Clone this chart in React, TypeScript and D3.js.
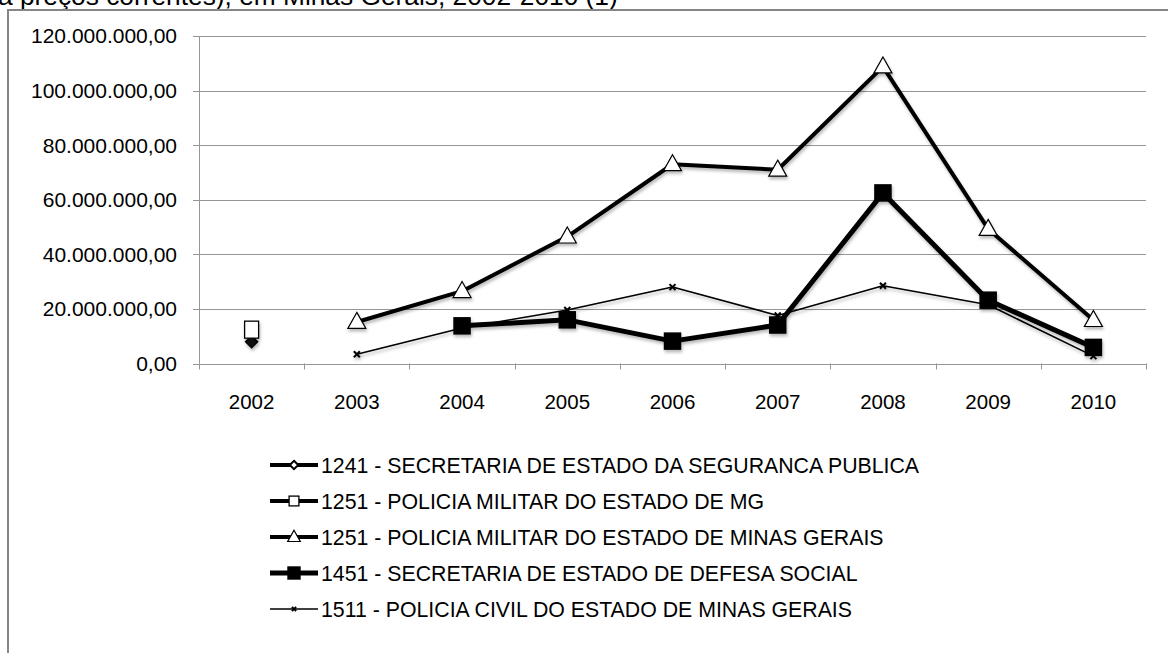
import React from "react";
import * as d3 from "d3";

const years = ["2002", "2003", "2004", "2005", "2006", "2007", "2008", "2009", "2010"];
const yTicks = [0, 20e6, 40e6, 60e6, 80e6, 100e6, 120e6];

const s1241: (number | null)[] = [8.0e6, null, null, null, null, null, null, null, null];
const s1251mg: (number | null)[] = [12.4e6, null, null, null, null, null, null, null, null];
const s1251minas: (number | null)[] = [null, 15.2e6, 26.5e6, 46.5e6, 73.0e6, 71.0e6, 108.8e6, 49.3e6, 15.9e6];
const s1451: (number | null)[] = [null, null, 13.8e6, 16.0e6, 8.2e6, 14.1e6, 62.5e6, 23.2e6, 5.9e6];
const s1511: (number | null)[] = [null, 3.4e6, 13.0e6, 19.6e6, 28.0e6, 17.6e6, 28.5e6, 21.5e6, 2.7e6];

const seriesNames = [
  "1241 - SECRETARIA DE ESTADO DA SEGURANCA PUBLICA",
  "1251 - POLICIA MILITAR DO ESTADO DE MG",
  "1251 - POLICIA MILITAR DO ESTADO DE MINAS GERAIS",
  "1451 - SECRETARIA DE ESTADO DE DEFESA SOCIAL",
  "1511 - POLICIA CIVIL DO ESTADO DE MINAS GERAIS",
];
const title = "a preços correntes), em Minas Gerais, 2002-2010 (1)";

type Marker = "diamond" | "square" | "triangle" | "blacksquare" | "x";
const series = [
  { name: seriesNames[0], values: s1241, marker: "diamond" as Marker, width: 4 },
  { name: seriesNames[1], values: s1251mg, marker: "square" as Marker, width: 4 },
  { name: seriesNames[2], values: s1251minas, marker: "triangle" as Marker, width: 4 },
  { name: seriesNames[3], values: s1451, marker: "blacksquare" as Marker, width: 5 },
  { name: seriesNames[4], values: s1511, marker: "x" as Marker, width: 1.6 },
];

const fmt = d3
  .formatLocale({ decimal: ",", thousands: ".", grouping: [3], currency: ["R$", ""] })
  .format(",.2f");

function MarkerShape({ type, x, y, legend }: { type: Marker; x: number; y: number; legend?: boolean }) {
  const k = legend ? 0.7 : 1;
  switch (type) {
    case "diamond": {
      const r = 6 * k;
      return (
        <path
          d={`M${x},${y - r}L${x + r},${y}L${x},${y + r}L${x - r},${y}Z`}
          fill={legend ? "#fff" : "#111"}
          stroke="#000"
          strokeWidth={legend ? 2 : 1.5}
        />
      );
    }
    case "square": {
      const w = 14 * k;
      const h = legend ? w : 17;
      return <rect x={x - w / 2} y={y - h / 2} width={w} height={h} fill="#fff" stroke="#000" strokeWidth={1.3} />;
    }
    case "triangle": {
      const w = 18 * k;
      const h = 16 * k;
      return (
        <path
          d={`M${x},${y - h * 0.6}L${x + w / 2},${y + h * 0.4}L${x - w / 2},${y + h * 0.4}Z`}
          fill="#fff"
          stroke="#000"
          strokeWidth={1.2}
        />
      );
    }
    case "blacksquare": {
      const w = (legend ? 17 : 16) * k;
      return <rect x={x - w / 2} y={y - w / 2} width={w} height={w} fill="#000" stroke="#000" strokeWidth={1.5} />;
    }
    case "x": {
      const r = 3 * k;
      return (
        <path d={`M${x - r},${y - r}L${x + r},${y + r}M${x + r},${y - r}L${x - r},${y + r}`} stroke="#000" strokeWidth={2} />
      );
    }
  }
  return null;
}

export default function App() {
  const W = 1168;
  const H = 653;
  const x = d3.scaleBand<string>().domain(years).range([199, 1146]).padding(0);
  const y = d3.scaleLinear().domain([0, 120e6]).range([363.5, 36]);
  const cx = (yr: string) => (x(yr) as number) + x.bandwidth() / 2;

  const line = d3
    .line<number | null>()
    .defined((d) => d !== null)
    .x((_, i) => cx(years[i]))
    .y((d) => y(d as number));

  const font = "Arial, 'Liberation Sans', sans-serif";
  const legendX0 = 270;
  const legendX1 = 318;
  const legendY0 = 465;
  const legendDy = 36;

  return (
    <svg width={W} height={H} style={{ position: "absolute", left: 0, top: 0, background: "#fff" }}>
      <defs>
        <filter id="shadow" x="-10%" y="-10%" width="120%" height="130%">
          <feDropShadow dx="1" dy="2.5" stdDeviation="1.8" floodColor="#000" floodOpacity="0.28" />
        </filter>
      </defs>
      <rect x={0} y={0} width={W} height={H} fill="#fff" />
      <text x={-2} y={5} fontFamily={font} fontSize={26.3} fill="#000">
        {title}
      </text>
      {/* outer frame */}
      <path d={`M8,${H + 5}V10H${W + 5}`} fill="none" stroke="#868686" strokeWidth={2} />

      {/* gridlines */}
      {yTicks.map((t) => (
        <g key={t}>
          <line x1={193} x2={1146} y1={Math.round(y(t)) + 0.5} y2={Math.round(y(t)) + 0.5} stroke="#969696" strokeWidth={1} />
          <text
            x={177}
            y={y(t)}
            dy="0.35em"
            textAnchor="end"
            fontFamily={font}
            fontSize={21}
            fill="#000"
          >
            {fmt(t)}
          </text>
        </g>
      ))}
      {/* y axis */}
      <line x1={199.5} x2={199.5} y1={y(120e6)} y2={y(0)} stroke="#969696" />
      {/* x ticks */}
      {years.concat(["end"]).map((yr, i) => {
        const xx = Math.round(i < years.length ? (x(yr) as number) : 1146) + 0.5;
        return <line key={yr} x1={xx} x2={xx} y1={y(0)} y2={y(0) + 6} stroke="#969696" />;
      })}
      {years.map((yr) => (
        <text key={yr} x={cx(yr)} y={409} textAnchor="middle" fontFamily={font} fontSize={20.5} fill="#000">
          {yr}
        </text>
      ))}

      {/* series */}
      <g filter="url(#shadow)">
        {series.map((s) => (
          <path key={s.name} d={line(s.values) || ""} fill="none" stroke="#000" strokeWidth={s.width} strokeLinejoin="round" />
        ))}
        {series.map((s) =>
          s.values.map((v, i) =>
            v === null ? null : <MarkerShape key={s.name + i} type={s.marker} x={cx(years[i])} y={y(v)} />
          )
        )}
      </g>

      {/* legend */}
      {series.map((s, i) => {
        const ly = legendY0 + i * legendDy;
        return (
          <g key={s.name}>
            <line x1={legendX0} x2={legendX1} y1={ly} y2={ly} stroke="#000" strokeWidth={s.width} />
            <MarkerShape type={s.marker} x={(legendX0 + legendX1) / 2} y={ly} legend />
            <text x={321} y={ly + 7.5} fontFamily={font} fontSize={21.3} fill="#000">
              {s.name}
            </text>
          </g>
        );
      })}
    </svg>
  );
}
